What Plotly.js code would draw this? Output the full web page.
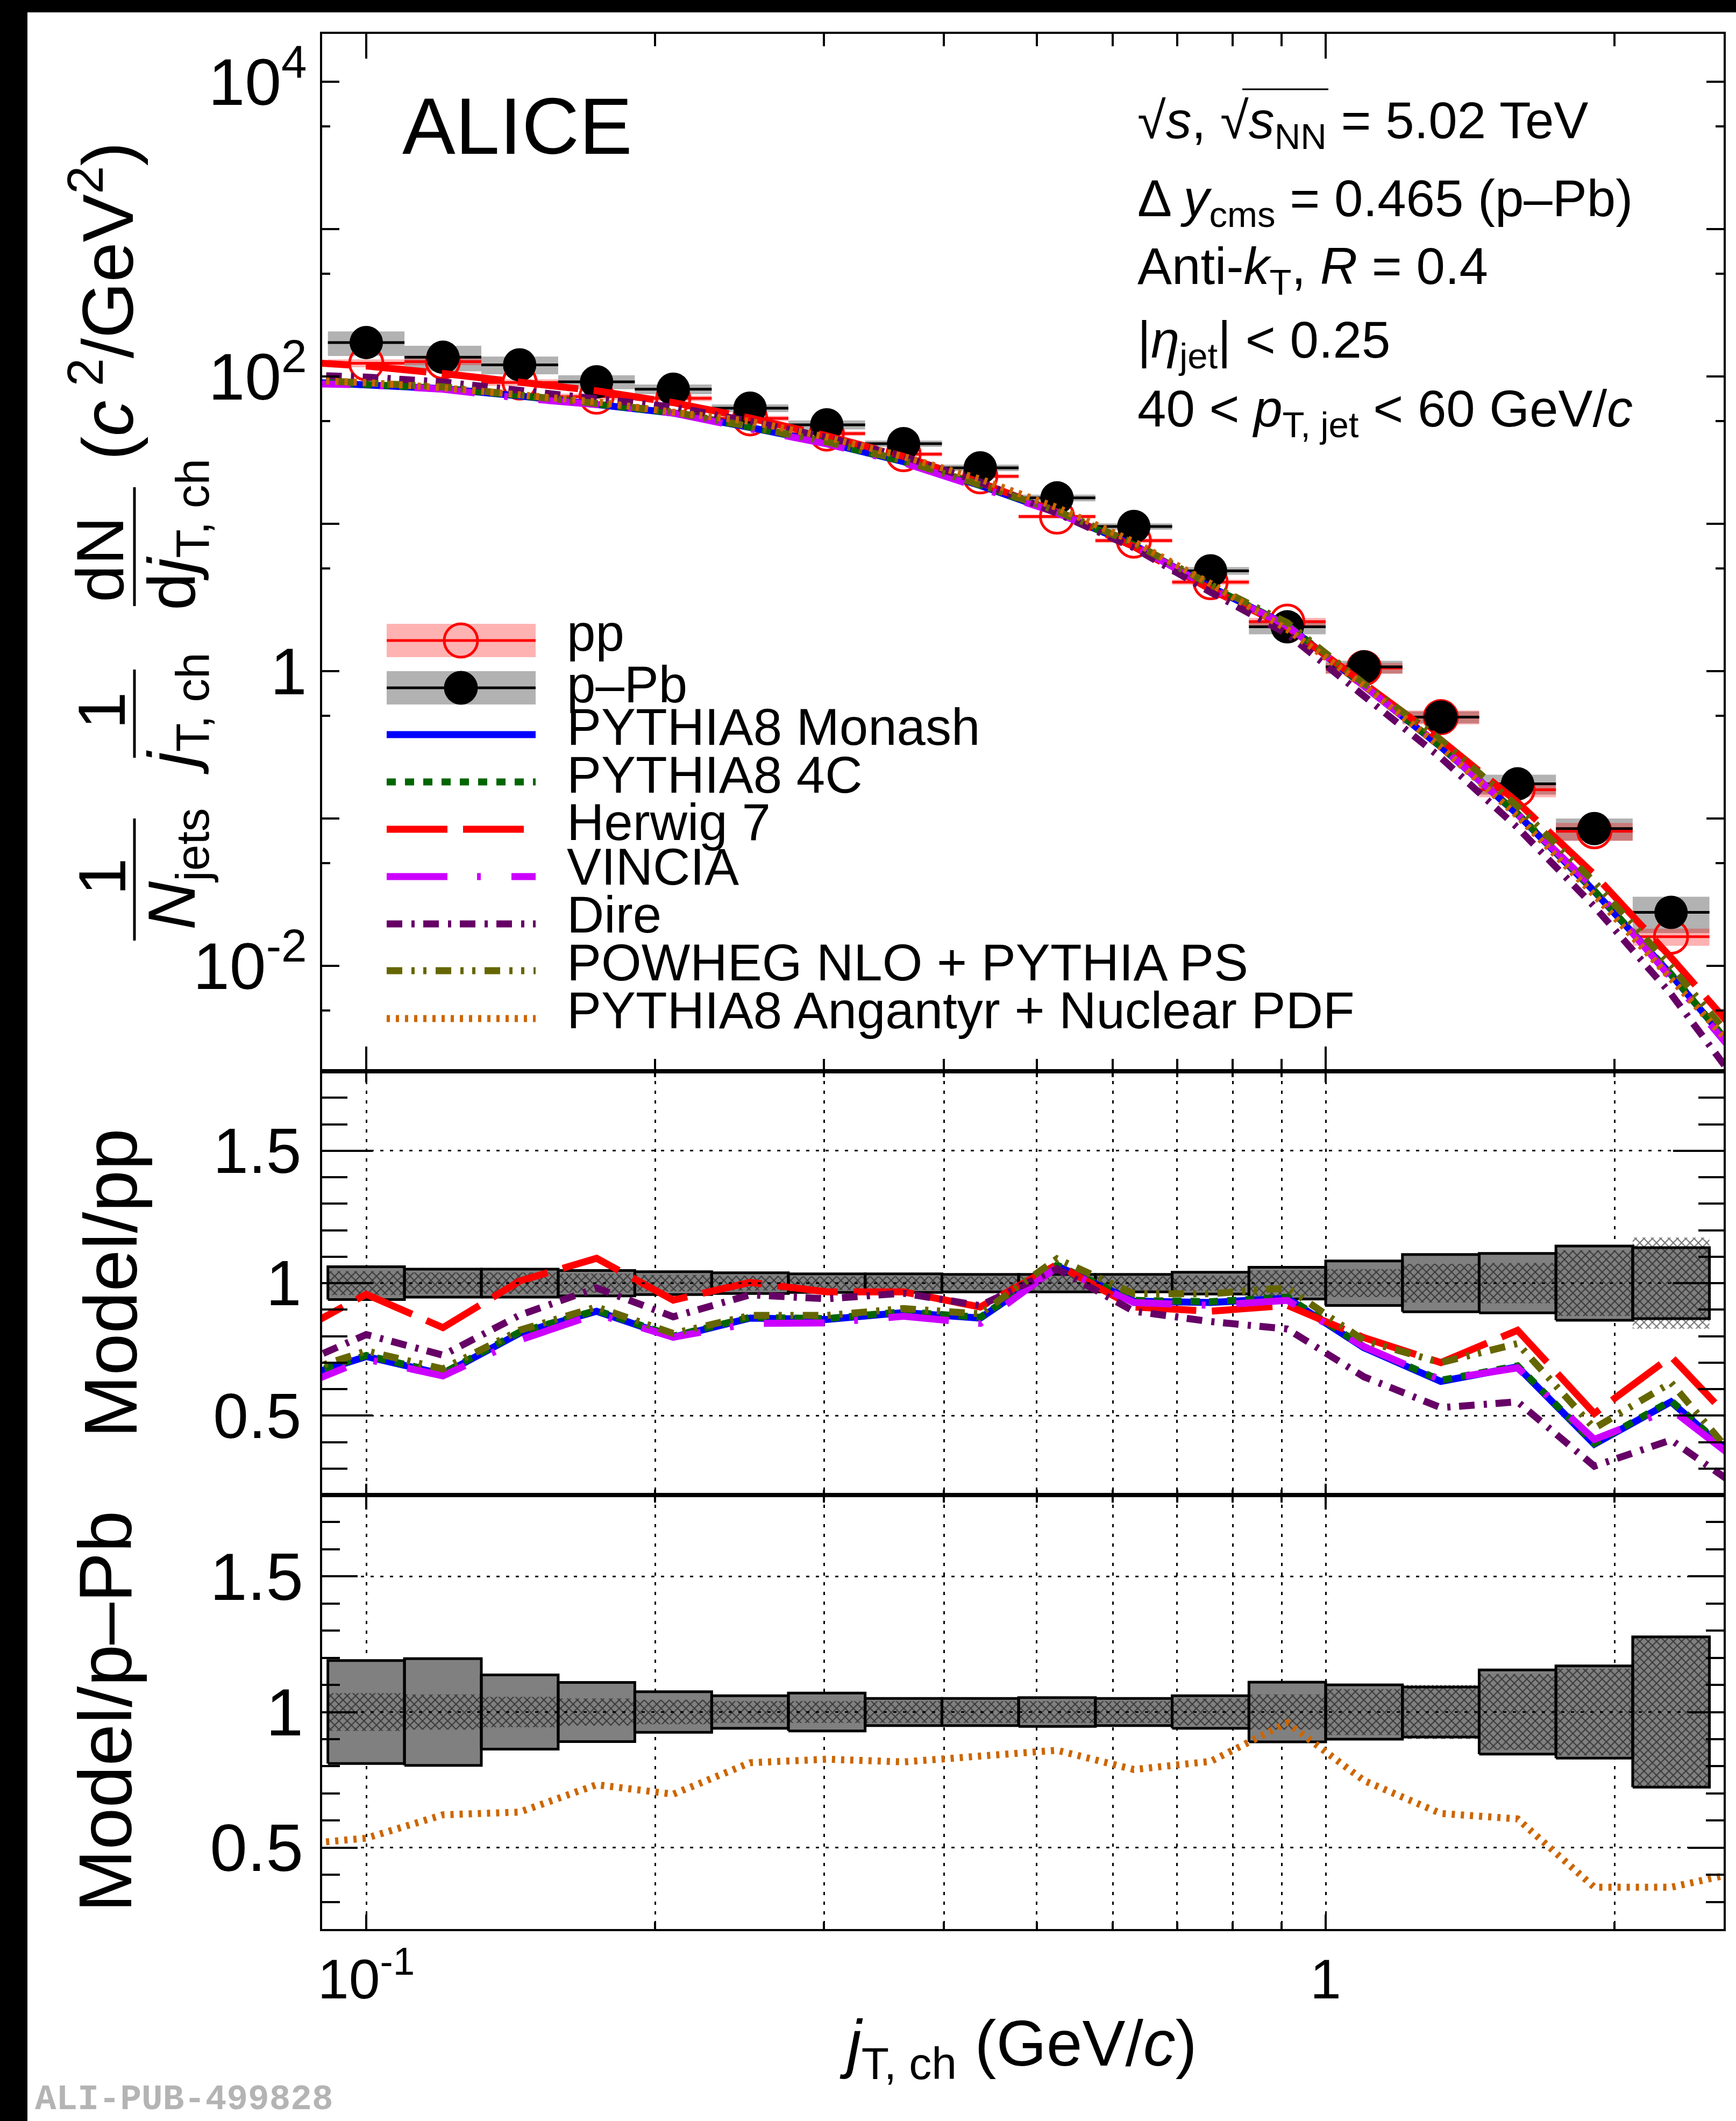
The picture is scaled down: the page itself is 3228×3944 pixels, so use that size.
<!DOCTYPE html>
<html><head><meta charset="utf-8">
<script src="https://cdn.plot.ly/plotly-3.0.1.min.js"></script>
<style>
html,body{margin:0;padding:0;background:#000;}
#plot{position:absolute;left:51px;top:23px;width:3177px;height:3921px;background:#fff;}
</style></head><body><div id="plot"></div>
<script>
// ---------------- DATA ----------------
const binEdges = [0.0912,0.1096,0.1318,0.1585,0.1905,0.2291,0.2754,0.3311,0.3981,0.4786,0.5754,0.6918,0.8318,1.0,1.2023,1.4454,1.7378,2.0893,2.5119];
const binCenters = [0.1,0.1202,0.1445,0.1738,0.2089,0.2512,0.3020,0.3631,0.4365,0.5248,0.6310,0.7586,0.9120,1.0965,1.3183,1.5849,1.9055,2.2909];
const modelX = [0.0832,0.1,0.1202,0.1445,0.1738,0.2089,0.2512,0.3020,0.3631,0.4365,0.5248,0.6310,0.7586,0.9120,1.0965,1.3183,1.5849,1.9055,2.2909,2.7542];

const ppValues  = [123,126,91,73,71,52,41,29.7,21,11.2,7.7,4.02,2.17,1.05,0.488,0.157,0.082,0.0158];
const pPbValues = [170,135,120,92,82,61,47,35,24,15,9.6,4.8,2.0,1.07,0.488,0.172,0.0855,0.0231];

const ppSysRel    = [0.062,0.053,0.053,0.048,0.043,0.039,0.035,0.035,0.033,0.033,0.033,0.041,0.06,0.084,0.108,0.112,0.14,0.134];
const ppHatchRel  = [0.045,0.04,0.04,0.036,0.031,0.028,0.026,0.026,0.025,0.026,0.026,0.029,0.048,0.053,0.073,0.076,0.124,0.172];
const pPbSysRel   = [0.19,0.197,0.137,0.109,0.075,0.06,0.07,0.05,0.05,0.053,0.05,0.06,0.11,0.1,0.092,0.155,0.17,0.277];
const pPbHatchRel = [0.07,0.065,0.056,0.05,0.045,0.04,0.04,0.04,0.04,0.04,0.04,0.05,0.065,0.085,0.1,0.14,0.16,0.275];

// model spectra (main panel)
const monashAbs   = [93,88.9,82.7,73.8,65.3,56.5,45.1,35.4,26.4,18.2,11.9,7.18,3.73,2.05,0.794,0.307,0.107,0.0321,0.00872,0.0021];
const fourCAbs    = [93.5,89.3,83.2,74.2,65.5,56.8,45.3,35.5,26.5,18.3,11.96,7.2,3.74,2.06,0.798,0.309,0.108,0.0324,0.0088,0.0021];
const herwigAbs   = [127,117.8,104.8,91.7,79.9,66.5,52.2,39.6,28.7,19.1,12.0,7.0,3.59,1.99,0.834,0.342,0.129,0.0417,0.0114,0.0029];
const vinciaAbs   = [90,87.7,81.9,71.4,64.5,56.5,44.1,34.9,26.0,17.8,11.9,7.16,3.68,2.03,0.798,0.31,0.107,0.0336,0.00828,0.0020];
const direAbs     = [103,99.1,91.7,80.0,71.7,62.0,49.7,38.6,28.6,19.2,11.8,6.88,3.44,1.79,0.678,0.259,0.0867,0.0253,0.00645,0.0013];
const powhegAbs   = [96,91.5,85.2,74.8,66.4,57.5,45.7,36.0,26.8,18.4,12.2,7.39,3.86,2.13,0.822,0.342,0.121,0.0371,0.00986,0.0024];
const angantyrAbs = [95,91,83.8,75.7,67.3,57.2,49.6,38.8,28.6,20.1,12.9,7.56,3.93,1.92,0.80,0.305,0.104,0.0303,0.0082,0.0022];

// Model/pp
const ratioMonash = [0.631,0.723,0.656,0.811,0.894,0.796,0.868,0.863,0.889,0.868,1.065,0.932,0.927,0.943,0.756,0.629,0.684,0.392,0.552,0.297];
const ratio4C     = [0.635,0.727,0.66,0.815,0.897,0.80,0.871,0.866,0.892,0.871,1.068,0.935,0.93,0.947,0.76,0.633,0.688,0.395,0.556,0.30];
const ratioHerwig = [0.801,0.958,0.832,1.008,1.094,0.936,1.003,0.967,0.967,0.91,1.07,0.91,0.894,0.916,0.794,0.70,0.822,0.508,0.723,0.417];
const ratioVincia = [0.595,0.713,0.65,0.785,0.884,0.796,0.848,0.85,0.875,0.848,1.06,0.927,0.916,0.935,0.76,0.635,0.68,0.41,0.524,0.30];
const ratioDire   = [0.679,0.806,0.728,0.879,0.982,0.873,0.956,0.941,0.962,0.915,1.054,0.894,0.855,0.827,0.646,0.53,0.552,0.309,0.408,0.205];
const ratioPowheg = [0.65,0.744,0.676,0.822,0.91,0.81,0.878,0.878,0.904,0.884,1.092,0.96,0.96,0.982,0.783,0.70,0.772,0.452,0.624,0.284];
// Model/p-Pb
const ratioAngantyr = [0.509,0.535,0.621,0.631,0.732,0.697,0.813,0.826,0.816,0.836,0.859,0.788,0.818,0.96,0.747,0.626,0.606,0.354,0.354,0.416];

const xTickVals = [0.1,1];
const xTickText = ['10<sup>-1</sup>','1'];
const xMinorVals = [0.2,0.3,0.4,0.5,0.6,0.7,0.8,0.9,2];
const yMainTickVals = [0.01,0.1,1,10,100,1000,10000];
const yMainTickText = ['10<sup>-2</sup>',' ','1',' ','10<sup>2</sup>',' ','10<sup>4</sup>'];
const yMainMinorVals = [0.005,0.05,0.5,5,50,500,5000];
const ratioTickVals = [0.5,1,1.5];
const ratioTickText = ['0.5','1','1.5'];

const models = [
  {name:'PYTHIA8 Monash', abs:monashAbs, ratio:ratioMonash, color:'#0000ff', dash:'solid'},
  {name:'PYTHIA8 4C', abs:fourCAbs, ratio:ratio4C, color:'#006600', dash:'17px,17px'},
  {name:'Herwig 7', abs:herwigAbs, ratio:ratioHerwig, color:'#ff0000', dash:'113px,29px'},
  {name:'VINCIA', abs:vinciaAbs, ratio:ratioVincia, color:'#cc00ff', dash:'113px,55px,7px,57px'},
  {name:'Dire', abs:direAbs, ratio:ratioDire, color:'#660066', dash:'29px,17px,6px,16px'},
  {name:'POWHEG NLO + PYTHIA PS', abs:powhegAbs, ratio:ratioPowheg, color:'#666600', dash:'29px,17px,6px,16px,6px,17px'},
  {name:'PYTHIA8 Angantyr + Nuclear PDF', abs:angantyrAbs, ratio:ratioAngantyr, color:'#cc6600', dash:'6px,11px'}
];

// ---------------- helpers ----------------
const FONT = 'Liberation Sans, Arial, Helvetica, sans-serif';
const X = px => (px - 599) / 2606;
const Y = py => (3587 - py) / 3524;
const LW = 13;

function boxPolys(values, rel) {
  const xs = [], ys = [];
  for (let i = 0; i < values.length; i++) {
    const lo = binEdges[i], hi = binEdges[i + 1];
    const y0 = values[i] * (1 - rel[i]), y1 = values[i] * (1 + rel[i]);
    xs.push(lo, hi, hi, lo, lo, null);
    ys.push(y0, y0, y1, y1, y0, null);
  }
  return {x: xs, y: ys};
}
const ones = binCenters.map(() => 1);
const errPlus = binCenters.map((c, i) => binEdges[i + 1] - c);
const errMinus = binCenters.map((c, i) => c - binEdges[i]);

const traces = [];
// ---- main panel ----
let b = boxPolys(pPbValues, pPbSysRel);
traces.push({x:b.x, y:b.y, xaxis:'x3', yaxis:'y3', mode:'lines', fill:'toself', fillcolor:'rgba(0,0,0,0.3)', line:{width:0}, hoverinfo:'skip'});
b = boxPolys(ppValues, ppSysRel);
traces.push({x:b.x, y:b.y, xaxis:'x3', yaxis:'y3', mode:'lines', fill:'toself', fillcolor:'rgba(255,0,0,0.3)', line:{width:0}, hoverinfo:'skip'});
traces.push({x:binCenters, y:ppValues, xaxis:'x3', yaxis:'y3', mode:'markers',
  marker:{symbol:'circle-open', size:62, color:'#ff0000', line:{width:5, color:'#ff0000'}},
  error_x:{type:'data', symmetric:false, array:errPlus, arrayminus:errMinus, color:'#ff0000', thickness:5, width:0}});
traces.push({x:binCenters, y:pPbValues, xaxis:'x3', yaxis:'y3', mode:'markers',
  marker:{symbol:'circle', size:62, color:'#000000'},
  error_x:{type:'data', symmetric:false, array:errPlus, arrayminus:errMinus, color:'#000000', thickness:5, width:0}});
models.forEach(m => traces.push({x:modelX, y:m.abs, xaxis:'x3', yaxis:'y3', mode:'lines', line:{color:m.color, width:LW, dash:m.dash}}));

// ---- middle panel (Model/pp) ----
b = boxPolys(ones, ppSysRel);
traces.push({x:b.x, y:b.y, xaxis:'x2', yaxis:'y2', mode:'lines', fill:'toself', fillcolor:'#808080', line:{width:5, color:'#000'}, hoverinfo:'skip'});
b = boxPolys(ones, ppHatchRel);
traces.push({x:b.x, y:b.y, xaxis:'x2', yaxis:'y2', mode:'lines', fill:'toself', fillcolor:'rgba(0,0,0,0)', line:{width:0},
  fillpattern:{shape:'x', fgcolor:'rgba(0,0,0,0.55)', bgcolor:'rgba(0,0,0,0)', size:11, solidity:0.35, fillmode:'replace'}, hoverinfo:'skip'});
models.slice(0, 6).forEach(m => traces.push({x:modelX, y:m.ratio, xaxis:'x2', yaxis:'y2', mode:'lines', line:{color:m.color, width:LW, dash:m.dash}}));

// ---- bottom panel (Model/p-Pb) ----
b = boxPolys(ones, pPbSysRel);
traces.push({x:b.x, y:b.y, xaxis:'x', yaxis:'y', mode:'lines', fill:'toself', fillcolor:'#808080', line:{width:5, color:'#000'}, hoverinfo:'skip'});
b = boxPolys(ones, pPbHatchRel);
traces.push({x:b.x, y:b.y, xaxis:'x', yaxis:'y', mode:'lines', fill:'toself', fillcolor:'rgba(0,0,0,0)', line:{width:0},
  fillpattern:{shape:'x', fgcolor:'rgba(0,0,0,0.55)', bgcolor:'rgba(0,0,0,0)', size:11, solidity:0.35, fillmode:'replace'}, hoverinfo:'skip'});
const ang = models[6];
traces.push({x:modelX, y:ang.ratio, xaxis:'x', yaxis:'y', mode:'lines', line:{color:ang.color, width:LW, dash:ang.dash}});

// ---------------- axes ----------------
const xRange = [-1.046, 0.4148];
function xAxis(anchor, len, showLabels, grid) {
  return {anchor:anchor, type:'log', range:xRange, tickmode:'array', tickvals:xTickVals, ticktext:xTickText,
    showticklabels:showLabels, ticks:'inside', ticklen:len, tickwidth:4, tickcolor:'#000',
    showline:true, linewidth:4, linecolor:'#000', mirror:'ticks', layer:'above traces',
    showgrid:grid, gridcolor:'#000', gridwidth:3, griddash:'6px,12px', zeroline:false,
    tickfont:{family:FONT, size:104, color:'#000'}, ticklabelstandoff:0,
    minor:{tickmode:'array', tickvals:xMinorVals, ticks:'inside', ticklen:len/2, tickwidth:4, tickcolor:'#000',
      showgrid:grid, gridcolor:'#000', gridwidth:3, griddash:'6px,12px'}};
}
function ratioAxis(anchor, domain, len, fs, standoff) {
  return {anchor:anchor, domain:domain, range:[0.2,1.8], tickmode:'array', tickvals:ratioTickVals, ticktext:ratioTickText,
    ticks:'inside', ticklen:len, tickwidth:4, tickcolor:'#000', showline:true, linewidth:4, linecolor:'#000',
    mirror:'ticks', layer:'above traces', showgrid:true, gridcolor:'#000', gridwidth:3, griddash:'6px,12px', zeroline:false,
    tickfont:{family:FONT, size:fs, color:'#000'}, ticklabelstandoff:standoff,
    minor:{dtick:0.1, tick0:0, ticks:'inside', ticklen:len/2, tickwidth:4, tickcolor:'#000', showgrid:false}};
}

const yBot = [0, 0.2290], yMid = [0.2290, 0.4526], yTop = [0.4526, 1];

const layout = {
  width:3177, height:3921, margin:{l:548, r:23, t:40, b:357},
  paper_bgcolor:'#fff', plot_bgcolor:'#fff', showlegend:false,
  font:{family:FONT, color:'#000'},
  xaxis: xAxis('y', 27, true, true),
  xaxis2: xAxis('y2', 21, false, true),
  xaxis3: xAxis('y3', 46, false, false),
  yaxis: ratioAxis('x', yBot, 66, 125, 6),
  yaxis2: ratioAxis('x2', yMid, 94, 118, 11),
  yaxis3: {anchor:'x3', domain:yTop, type:'log', range:[-2.715, 4.325], tickmode:'array', tickvals:yMainTickVals, ticktext:yMainTickText,
    ticks:'inside', ticklen:32, tickwidth:4, tickcolor:'#000', showline:true, linewidth:4, linecolor:'#000', mirror:'ticks',
    layer:'above traces', showgrid:false, zeroline:false, tickfont:{family:FONT, size:122, color:'#000'}, ticklabelstandoff:0,
    minor:{tickmode:'array', tickvals:yMainMinorVals, ticks:'inside', ticklen:15, tickwidth:4, tickcolor:'#000', showgrid:false}},
  shapes:[], annotations:[]
};

// y=1 dotted reference lines above boxes
['y','y2'].forEach((ya, i) => layout.shapes.push({type:'line', xref:i===0?'x domain':'x2 domain', yref:ya, x0:0, x1:1, y0:1, y1:1,
  line:{color:'#000', width:3, dash:'6px,12px'}, layer:'above'}));

// ---------------- legend (drawn by hand) ----------------
const legX0 = 719, legX1 = 996, legXc = 857;
layout.shapes.push({type:'rect', xref:'paper', yref:'paper', x0:X(legX0), x1:X(legX1), y0:Y(1222), y1:Y(1160), fillcolor:'rgba(255,0,0,0.3)', line:{width:0}});
layout.shapes.push({type:'line', xref:'paper', yref:'paper', x0:X(legX0), x1:X(legX1), y0:Y(1191), y1:Y(1191), line:{color:'#ff0000', width:5}});
layout.shapes.push({type:'circle', xref:'paper', yref:'paper', x0:X(legXc-31), x1:X(legXc+31), y0:Y(1222), y1:Y(1160), line:{color:'#ff0000', width:5}});
layout.shapes.push({type:'rect', xref:'paper', yref:'paper', x0:X(legX0), x1:X(legX1), y0:Y(1310), y1:Y(1248), fillcolor:'rgba(0,0,0,0.3)', line:{width:0}});
layout.shapes.push({type:'line', xref:'paper', yref:'paper', x0:X(legX0), x1:X(legX1), y0:Y(1279), y1:Y(1279), line:{color:'#000', width:5}});
layout.shapes.push({type:'circle', xref:'paper', yref:'paper', x0:X(legXc-31), x1:X(legXc+31), y0:Y(1310), y1:Y(1248), fillcolor:'#000', line:{color:'#000', width:1}});
const legLineY = [1366,1454,1542,1630,1718,1805,1894];
models.forEach((m, i) => layout.shapes.push({type:'line', xref:'paper', yref:'paper', x0:X(legX0), x1:X(legX1), y0:Y(legLineY[i]), y1:Y(legLineY[i]),
  line:{color:m.color, width:LW, dash:m.dash}}));
const legTextY = [1176,1272,1351,1440,1528,1612,1700,1789,1878];
const legLabels = ['pp','p–Pb'].concat(models.map(m => m.name));
legLabels.forEach((t, i) => layout.annotations.push({xref:'paper', yref:'paper', x:X(1052), y:Y(legTextY[i]), xanchor:'left', yanchor:'middle',
  text:t, showarrow:false, font:{family:FONT, size:96, color:'#000'}}));

// ---------------- texts ----------------
function ann(text, px, py, size, opts) {
  layout.annotations.push(Object.assign({xref:'paper', yref:'paper', x:X(px), y:Y(py), text:text, showarrow:false,
    xanchor:'center', yanchor:'middle', font:{family:FONT, size:size, color:'#000'}}, opts || {}));
}
ann('ALICE', 746, 235, 148, {xanchor:'left'});
const info = [
  ['√<i>s</i>, √<i>s</i><sub>NN</sub> = 5.02 TeV', 230],
  ['Δ <i>y</i><sub>cms</sub> = 0.465 (p–Pb)', 376],
  ['Anti-<i>k</i><sub>T</sub>, <i>R</i> = 0.4', 501],
  ['|<i>η</i><sub>jet</sub>| &lt; 0.25', 638],
  ['40 &lt; <i>p</i><sub>T, jet</sub> &lt; 60 GeV/<i>c</i>', 766]
];
info.forEach(r => ann(r[0], 2113, r[1], 96, {xanchor:'left'}));
layout.shapes.push({type:'line', xref:'paper', yref:'paper', x0:X(2310), x1:X(2470), y0:Y(166), y1:Y(166), line:{color:'#000', width:3}});

// x title
ann('<i>j</i><sub>T, ch</sub> (GeV/<i>c</i>)', 1893, 3808, 120);
// ratio titles
ann('Model/pp', 205, 2386, 140, {textangle:-90});
ann('Model/p–Pb', 195, 3183, 140, {textangle:-90});
// main y title (pieces)
ann('1', 189, 1630, 125, {textangle:-90});
ann('<i>N</i><sub>jets</sub>', 328, 1616, 125, {textangle:-90});
ann('1', 189, 1321, 125, {textangle:-90});
ann('<i>j</i><sub>T, ch</sub>', 328, 1327, 125, {textangle:-90});
ann('dN', 185, 1040, 125, {textangle:-90});
ann('d<i>j</i><sub>T, ch</sub>', 328, 994, 125, {textangle:-90});
ann('(<i>c</i><sup> 2</sup>/GeV<sup>2</sup>)', 190, 560, 134, {textangle:-90});
[[1522,1749],[1245,1409],[906,1127]].forEach(s => layout.shapes.push({type:'line', xref:'paper', yref:'paper', x0:X(250), x1:X(250), y0:Y(s[0]), y1:Y(s[1]), line:{color:'#000', width:5}}));
// publication id
ann('<b>ALI-PUB-499828</b>', 63, 3904, 66, {xanchor:'left', font:{family:'Liberation Mono, Courier New, monospace', size:66, color:'#b4b4b4'}});

Plotly.newPlot('plot', traces, layout, {staticPlot:true, displayModeBar:false});
</script></body></html>
